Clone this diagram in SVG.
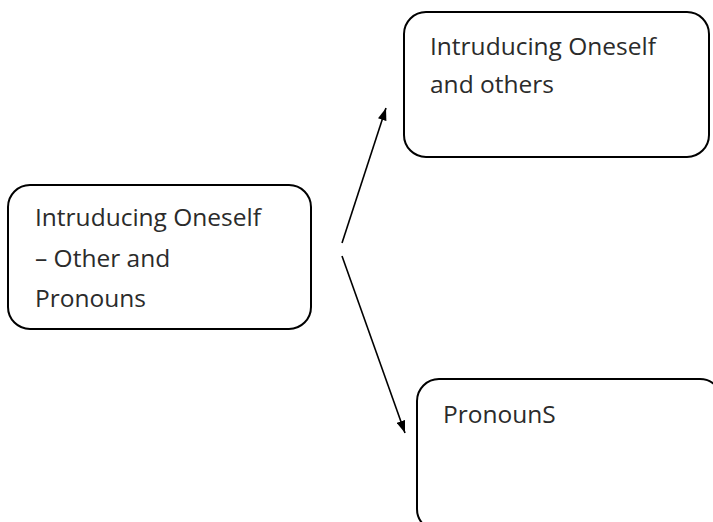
<svg xmlns="http://www.w3.org/2000/svg" width="713" height="522" viewBox="0 0 713 522">
<defs>
<style>
.box{fill:#fff;stroke:#000;stroke-width:2}
.t{font-family:"Open Sans","Liberation Sans",sans-serif;font-size:24.5px;fill:#2b2b2b}
.c{stroke:#000;stroke-width:1.6;fill:none;marker-end:url(#ah)}
</style>
<marker id="ah" viewBox="0 0 14 10" refX="14" refY="5" markerWidth="8" markerHeight="5.5" markerUnits="strokeWidth" orient="auto">
<path d="M0,0 L14,5 L0,10 z" fill="#000"/>
</marker>
</defs>
<rect width="713" height="522" fill="#fff"/>
<g id="connectors">
<line class="c" x1="342" y1="243" x2="386" y2="108"/>
<line class="c" x1="342" y1="256" x2="405" y2="433"/>
</g>
<g id="main">
<rect class="box" x="8" y="185" width="303" height="144" rx="22"/>
<text class="t" x="35" y="226">Intruducing Oneself</text>
<text class="t" x="35" y="267">– Other and</text>
<text class="t" x="35" y="307">Pronouns</text>
</g>
<g id="introducing">
<rect class="box" x="404" y="12" width="305" height="145" rx="22"/>
<text class="t" x="430" y="55">Intruducing Oneself</text>
<text class="t" x="430" y="93">and others</text>
</g>
<g id="pronouns">
<rect class="box" x="417" y="379" width="305" height="152" rx="22"/>
<text class="t" x="443" y="423">PronounS</text>
</g>
</svg>
